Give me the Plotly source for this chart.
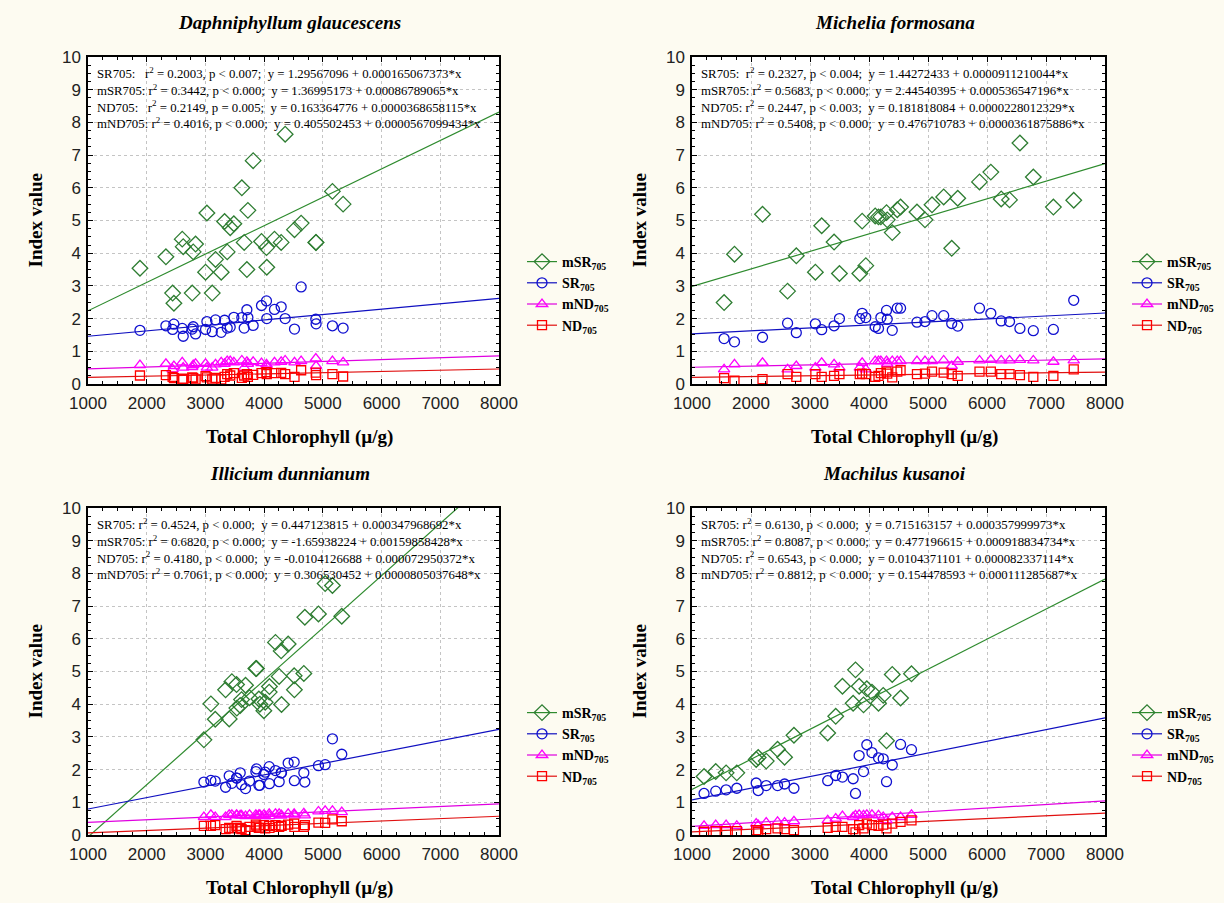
import plotly.graph_objects as go

# ---------------- data ----------------
TITLES = ["Daphniphyllum glaucescens", "Michelia formosana", "Illicium dunnianum", "Machilus kusanoi"]

# Panel 1: Daphniphyllum glaucescens
D_CHL = [1885, 2327, 2441, 2463, 2605, 2622, 2775, 2792, 2832, 3002, 3025, 3116, 3172, 3269, 3326, 3371, 3422,
         3484, 3620, 3660, 3706, 3723, 3813, 3955, 4040, 4045, 4176, 4290, 4358, 4517, 4630, 4880, 4885, 5163, 5345]
D_MSR = [3.54, 3.89, 2.78, 2.47, 4.43, 4.20, 2.78, 4.04, 4.28, 3.42, 5.23, 2.78, 3.81, 3.42, 4.97, 4.04, 4.78,
         4.90, 6.00, 4.33, 3.50, 5.31, 6.83, 4.36, 4.17, 3.57, 4.43, 4.33, 7.64, 4.72, 4.92, 4.33, 4.33, 5.89, 5.50]
D_SR = [1.64, 1.78, 1.67, 1.83, 1.70, 1.46, 1.68, 1.75, 1.53, 1.67, 1.91, 1.60, 1.96, 1.58, 1.95, 1.71, 1.74,
        2.04, 2.03, 1.71, 2.27, 2.03, 1.79, 2.40, 2.54, 2.00, 2.28, 2.36, 2.00, 1.68, 2.97, 1.98, 1.84, 1.78, 1.71]
D_MND = [0.58, 0.62, 0.45, 0.55, 0.66, 0.50, 0.52, 0.58, 0.62, 0.62, 0.50, 0.50, 0.60, 0.66, 0.62, 0.70, 0.70,
         0.66, 0.72, 0.50, 0.68, 0.62, 0.68, 0.64, 0.60, 0.55, 0.66, 0.68, 0.72, 0.66, 0.70, 0.78, 0.55, 0.70, 0.66]
D_ND = [0.26, 0.27, 0.22, 0.18, 0.16, 0.14, 0.20, 0.18, 0.14, 0.24, 0.20, 0.14, 0.19, 0.14, 0.22, 0.30, 0.26,
        0.33, 0.19, 0.26, 0.30, 0.22, 0.28, 0.33, 0.36, 0.30, 0.33, 0.34, 0.30, 0.22, 0.42, 0.35, 0.27, 0.30, 0.23]

# Panel 2: Michelia formosana
M_CHL = [1544, 1720, 2195, 2620, 2768, 3091, 3198, 3408, 3499, 3844, 3884, 3946, 4105, 4161, 4201, 4297, 4309,
         4394, 4479, 4535, 4813, 4949, 5068, 5266, 5402, 5504, 5873, 6065, 6241, 6382, 6558, 6785, 7125, 7470]
M_MSR = [2.49, 3.97, 5.19, 2.84, 3.92, 3.42, 4.84, 4.34, 3.38, 3.38, 4.98, 3.62, 5.14, 5.11, 5.11, 5.24, 5.02,
         4.63, 5.33, 5.41, 5.26, 5.02, 5.48, 5.72, 4.15, 5.68, 6.18, 6.48, 5.66, 5.63, 7.37, 6.33, 5.41, 5.62]
M_SR = [1.39, 1.29, 1.43, 1.86, 1.57, 1.84, 1.66, 1.78, 2.00, 2.00, 2.16, 2.03, 1.75, 1.70, 2.03, 2.25, 1.98,
        1.64, 2.32, 2.32, 1.89, 1.91, 2.09, 2.09, 1.85, 1.77, 2.32, 2.16, 1.93, 1.91, 1.70, 1.63, 1.67, 2.56]
M_MND = [0.45, 0.60, 0.65, 0.45, 0.55, 0.50, 0.65, 0.60, 0.50, 0.50, 0.65, 0.45, 0.70, 0.70, 0.70, 0.70, 0.62,
         0.70, 0.70, 0.70, 0.70, 0.70, 0.70, 0.72, 0.55, 0.68, 0.72, 0.74, 0.72, 0.72, 0.74, 0.72, 0.68, 0.72]
M_ND = [0.18, 0.10, 0.15, 0.30, 0.22, 0.30, 0.22, 0.25, 0.30, 0.30, 0.32, 0.30, 0.22, 0.25, 0.33, 0.38, 0.32,
        0.20, 0.38, 0.42, 0.30, 0.32, 0.38, 0.35, 0.30, 0.25, 0.38, 0.38, 0.30, 0.30, 0.27, 0.22, 0.25, 0.45]

# Panel 3: Illicium dunnianum
I_CHL = [2974, 3093, 3167, 3343, 3405, 3450, 3530, 3535, 3592, 3615, 3683, 3751, 3859, 3870, 3910, 3927, 3995,
         4018, 4086, 4090, 4193, 4256, 4290, 4296, 4409, 4511, 4515, 4676, 4693, 4925, 5039, 5163, 5322]
I_MSR = [2.91, 4.01, 3.54, 4.44, 3.55, 4.69, 4.60, 3.88, 3.96, 4.14, 4.58, 4.20, 5.09, 5.09, 4.16, 4.00, 3.80,
         4.06, 4.37, 4.54, 5.89, 4.85, 5.63, 3.99, 5.84, 4.87, 4.44, 4.94, 6.66, 6.76, 7.69, 7.63, 6.69]
I_SR = [1.62, 1.67, 1.65, 1.46, 1.81, 1.58, 1.74, 1.74, 1.90, 1.54, 1.42, 1.65, 1.94, 2.02, 1.52, 1.52, 1.85,
        1.92, 2.09, 1.57, 1.97, 1.63, 1.90, 1.90, 2.20, 2.23, 1.66, 1.90, 1.62, 2.12, 2.15, 2.94, 2.47]
I_MND = [0.55, 0.62, 0.55, 0.55, 0.62, 0.62, 0.62, 0.60, 0.60, 0.60, 0.58, 0.62, 0.62, 0.58, 0.62, 0.62, 0.62,
         0.58, 0.65, 0.58, 0.65, 0.65, 0.60, 0.60, 0.65, 0.65, 0.60, 0.66, 0.60, 0.72, 0.74, 0.74, 0.70]
I_ND = [0.28, 0.28, 0.30, 0.18, 0.22, 0.20, 0.28, 0.22, 0.22, 0.18, 0.15, 0.25, 0.32, 0.26, 0.22, 0.22, 0.30,
        0.20, 0.28, 0.22, 0.30, 0.25, 0.28, 0.28, 0.32, 0.35, 0.25, 0.25, 0.30, 0.38, 0.37, 0.48, 0.42]

# Panel 4: Machilus kusanoi
K_CHL = [1204, 1402, 1578, 1759, 2088, 2122, 2258, 2450, 2569, 2728, 3300, 3436, 3550, 3731, 3771, 3833, 3907,
         3963, 4050, 4161, 4241, 4297, 4394, 4535, 4720]
K_MSR = [1.79, 1.94, 1.90, 1.90, 2.31, 2.37, 2.26, 2.62, 2.38, 3.05, 3.12, 3.63, 4.55, 4.03, 5.05, 4.55, 3.98,
         4.47, 4.37, 4.03, 4.27, 2.88, 4.91, 4.19, 4.93]
K_SR = [1.27, 1.34, 1.38, 1.43, 1.59, 1.36, 1.51, 1.51, 1.56, 1.43, 1.66, 1.82, 1.77, 1.72, 1.27, 2.43, 1.94,
        2.76, 2.52, 2.36, 2.33, 1.63, 2.14, 2.77, 2.61]
K_MND = [0.28, 0.30, 0.30, 0.28, 0.35, 0.30, 0.38, 0.40, 0.38, 0.42, 0.45, 0.50, 0.58, 0.55, 0.60, 0.62, 0.60,
         0.62, 0.62, 0.60, 0.55, 0.45, 0.55, 0.55, 0.62]
K_ND = [0.10, 0.12, 0.12, 0.12, 0.15, 0.10, 0.18, 0.20, 0.18, 0.15, 0.22, 0.25, 0.25, 0.18, 0.08, 0.30, 0.20,
        0.35, 0.30, 0.28, 0.32, 0.20, 0.35, 0.40, 0.45]

# Regression coefficients (intercept, slope) in order mSR, SR, mND, ND
D_INTERCEPT = [1.36995173, 1.29567096, 0.405502453, 0.163364776]
D_SLOPE = [0.00086789065, 0.000165067373, 0.0000567099434, 0.0000368658115]
M_INTERCEPT = [2.44540395, 1.44272433, 0.476710783, 0.181818084]
M_SLOPE = [0.000536547196, 0.0000911210044, 0.0000361875886, 0.0000228012329]
I_INTERCEPT = [-1.65938224, 0.447123815, 0.306530452, -0.0104126688]
I_SLOPE = [0.00159858428, 0.000347968692, 0.0000805037648, 0.000072950372]
K_INTERCEPT = [0.477196615, 0.715163157, 0.154478593, 0.0104371101]
K_SLOPE = [0.000918834734, 0.000357999973, 0.000111285687, 0.000082337114]

X_RANGE = [1000, 8000]

STATS_TEXT = [
    ["SR705:   r<sup>2</sup> = 0.2003, p < 0.007;  y = 1.29567096 + 0.000165067373*x",
     "mSR705: r<sup>2</sup> = 0.3442, p < 0.000;  y = 1.36995173 + 0.00086789065*x",
     "ND705:   r<sup>2</sup> = 0.2149, p = 0.005;  y = 0.163364776 + 0.0000368658115*x",
     "mND705: r<sup>2</sup> = 0.4016, p < 0.000;  y = 0.405502453 + 0.0000567099434*x"],
    ["SR705:  r<sup>2</sup> = 0.2327, p < 0.004;  y = 1.44272433 + 0.0000911210044*x",
     "mSR705: r<sup>2</sup> = 0.5683, p < 0.000;  y = 2.44540395 + 0.000536547196*x",
     "ND705: r<sup>2</sup> = 0.2447, p < 0.003;  y = 0.181818084 + 0.0000228012329*x",
     "mND705: r<sup>2</sup> = 0.5408, p < 0.000;  y = 0.476710783 + 0.0000361875886*x"],
    ["SR705: r<sup>2</sup> = 0.4524, p < 0.000;  y = 0.447123815 + 0.000347968692*x",
     "mSR705: r<sup>2</sup> = 0.6820, p < 0.000;  y = -1.65938224 + 0.00159858428*x",
     "ND705: r<sup>2</sup> = 0.4180, p < 0.000;  y = -0.0104126688 + 0.000072950372*x",
     "mND705: r<sup>2</sup> = 0.7061, p < 0.000;  y = 0.306530452 + 0.0000805037648*x"],
    ["SR705: r<sup>2</sup> = 0.6130, p < 0.000;  y = 0.715163157 + 0.000357999973*x",
     "mSR705: r<sup>2</sup> = 0.8087, p < 0.000;  y = 0.477196615 + 0.000918834734*x",
     "ND705: r<sup>2</sup> = 0.6543, p < 0.000;  y = 0.0104371101 + 0.000082337114*x",
     "mND705: r<sup>2</sup> = 0.8812, p < 0.000;  y = 0.154478593 + 0.000111285687*x"],
]

SERIES_NAMES = ["mSR<sub>705</sub>", "SR<sub>705</sub>", "mND<sub>705</sub>", "ND<sub>705</sub>"]

# ---------------- styling ----------------
W, H = 1224, 903
BG = "#FDFBF1"
SYMBOLS = ["diamond-open", "circle-open", "triangle-up-open", "square-open"]
MARKER_COLORS = ["#2E7D32", "#1010D0", "#FF00FF", "#FF0000"]
LINE_COLORS = ["#2E8B2E", "#1010C0", "#E000E0", "#E01010"]
MARKER_SIZES = [12, 10, 10, 9]

# plot boxes in pixels (left, right, top, bottom)
BOXES = [(88, 499, 57, 384), (692, 1105, 57, 384), (88, 499, 508, 835), (692, 1105, 508, 835)]
LEGEND_POS = [(522, 246), (1127, 246), (522, 697), (1127, 697)]

panels = [
    (D_CHL, [D_MSR, D_SR, D_MND, D_ND], D_INTERCEPT, D_SLOPE),
    (M_CHL, [M_MSR, M_SR, M_MND, M_ND], M_INTERCEPT, M_SLOPE),
    (I_CHL, [I_MSR, I_SR, I_MND, I_ND], I_INTERCEPT, I_SLOPE),
    (K_CHL, [K_MSR, K_SR, K_MND, K_ND], K_INTERCEPT, K_SLOPE),
]

fig = go.Figure()
layout = {}
annotations = []

serif = "Liberation Serif, Times New Roman, serif"
sans = "Liberation Sans, Arial, sans-serif"

for p, (chl, ys, b0s, b1s) in enumerate(panels):
    n = p + 1
    xa = "x" if n == 1 else f"x{n}"
    ya = "y" if n == 1 else f"y{n}"
    leg = "legend" if n == 1 else f"legend{n}"
    l, r, t, b = BOXES[p]
    common = dict(
        showline=True, linecolor="black", linewidth=1.5, mirror="ticks",
        ticks="inside", ticklen=5, tickcolor="black",
        showgrid=True, gridcolor="#C4C4C4", griddash="dot", gridwidth=1,
        zeroline=False, tickfont=dict(family=sans, size=17, color="#222222"),
        automargin=False,
    )
    layout["xaxis" if n == 1 else f"xaxis{n}"] = dict(
        common, domain=[l / W, r / W], range=X_RANGE, dtick=1000, tick0=1000,
        anchor=ya, ticklabelstandoff=3,
        minor=dict(ticks="inside", ticklen=3, dtick=250, tickcolor="black", showgrid=False),
    )
    layout["yaxis" if n == 1 else f"yaxis{n}"] = dict(
        common, domain=[1 - b / H, 1 - t / H], range=[0, 10], dtick=1, tick0=0,
        anchor=xa, ticklabelstandoff=2,
        minor=dict(ticks="inside", ticklen=3, dtick=0.25, tickcolor="black", showgrid=False),
    )
    lx, ly = LEGEND_POS[p]
    layout[leg] = dict(
        x=lx / W, y=1 - ly / H, xanchor="left", yanchor="top",
        bgcolor="rgba(0,0,0,0)", borderwidth=0,
        font=dict(family=serif, size=14, color="black"),
        tracegroupgap=0, itemwidth=30,
    )

    for k in range(4):
        # regression line from printed equation
        line_y = [b0s[k] + b1s[k] * xv for xv in X_RANGE]
        fig.add_trace(go.Scatter(
            x=X_RANGE, y=line_y, mode="lines", xaxis=xa, yaxis=ya,
            line=dict(color=LINE_COLORS[k], width=1.2), showlegend=False, hoverinfo="skip"))
    for k in range(4):
        fig.add_trace(go.Scatter(
            x=chl, y=ys[k], mode="markers", xaxis=xa, yaxis=ya,
            marker=dict(symbol=SYMBOLS[k], size=MARKER_SIZES[k], color=MARKER_COLORS[k],
                        line=dict(width=1.3, color=MARKER_COLORS[k])),
            showlegend=False))
    for k in range(4):
        fig.add_trace(go.Scatter(
            x=[None], y=[None], mode="lines+markers", xaxis=xa, yaxis=ya, legend=leg,
            name=f"<b>{SERIES_NAMES[k]}</b>",
            line=dict(color=LINE_COLORS[k], width=1.2),
            marker=dict(symbol=SYMBOLS[k], size=MARKER_SIZES[k], color=MARKER_COLORS[k],
                        line=dict(width=1.3, color=MARKER_COLORS[k])),
            showlegend=True))

    # subplot title
    annotations.append(dict(
        text=f"<b><i>{TITLES[p]}</i></b>", xref="paper", yref="paper",
        x=((l + r) / 2 - 4) / W, y=1 - (t - 35) / H, xanchor="center", yanchor="middle",
        showarrow=False, font=dict(family=serif, size=19, color="black")))
    # axis titles
    annotations.append(dict(
        text="<b>Total Chlorophyll (µ/g)</b>", xref="paper", yref="paper",
        x=((l + r) / 2 + 6) / W, y=1 - (b + 53) / H, xanchor="center", yanchor="middle",
        showarrow=False, font=dict(family=serif, size=19, color="black")))
    annotations.append(dict(
        text="<b>Index value</b>", xref="paper", yref="paper", textangle=-90,
        x=(l - 53) / W, y=1 - ((t + b) / 2) / H, xanchor="center", yanchor="middle",
        showarrow=False, font=dict(family=serif, size=19, color="black")))
    # regression statistics
    annotations.append(dict(
        text="<br>".join(STATS_TEXT[p]), xref="paper", yref="paper",
        x=(l + 7) / W, y=1 - (t + 6) / H, xanchor="left", yanchor="top", align="left",
        showarrow=False, font=dict(family=serif, size=12.8, color="black")))

layout["annotations"] = annotations
fig.update_layout(
    width=W, height=H, margin=dict(l=0, r=0, t=0, b=0, autoexpand=False),
    paper_bgcolor=BG, plot_bgcolor="white",
    **layout,
)

fig.write_html("out.html", config={"displayModeBar": False},
               post_script="document.body.style.margin='0';document.body.style.background='" + BG + "';")
